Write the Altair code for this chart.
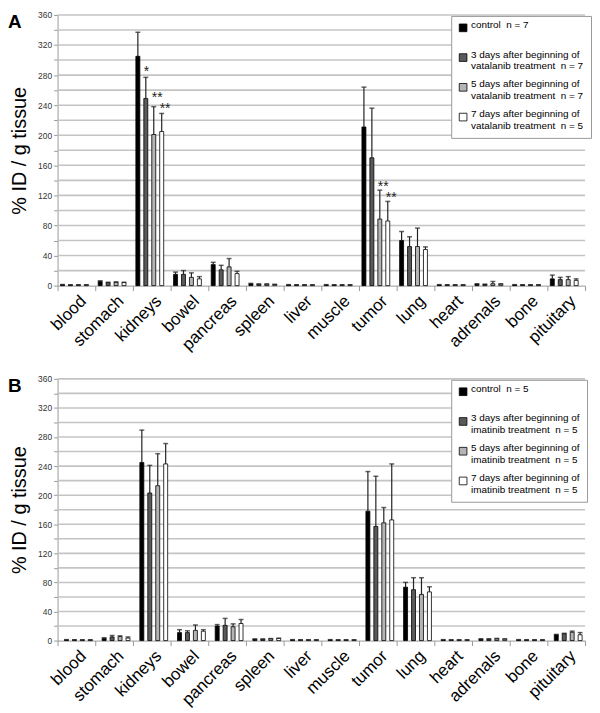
import altair as alt
import pandas as pd

tissues = ["blood", "stomach", "kidneys", "bowel", "pancreas", "spleen", "liver",
           "muscle", "tumor", "lung", "heart", "adrenals", "bone", "pituitary"]

NB = "\u00a0\u00a0"
labels_A = ["control" + NB + "n = 7| ",
            "3 days after beginning of|vatalanib treatment" + NB + "n = 7",
            "5 days after beginning of|vatalanib treatment" + NB + "n = 7",
            "7 days after beginning of|vatalanib treatment" + NB + "n = 5"]
labels_B = ["control" + NB + "n = 5| ",
            "3 days after beginning of|imatinib treatment" + NB + "n = 5",
            "5 days after beginning of|imatinib treatment" + NB + "n = 5",
            "7 days after beginning of|imatinib treatment" + NB + "n = 5"]
colors = ["#000000", "#5a5a5a", "#b4b4b4", "#ffffff"]

# Panel A (vatalanib) means and upper error limits
ctrl_A = [1.2, 5.5, 305, 15, 28, 2.5, 1, 1, 211, 60, 1, 2, 1, 9]
d3_A = [1, 4, 249, 15, 21, 2, 1, 1, 170, 52, 1, 1.5, 1, 8]
d5_A = [1, 4.5, 201, 11, 25, 2, 1, 1, 88.5, 52, 1, 2.5, 1, 8]
d7_A = [1, 4, 205, 9, 16, 1.5, 1, 1, 86, 48, 1, 2, 1, 7]
ctrl_A_top = [1.5, 6.5, 337, 18, 31, 3, 1.3, 1.3, 264, 72, 1.3, 2.5, 1.3, 14]
d3_A_top = [1.2, 4.5, 277, 20, 27, 2.3, 1.2, 1.2, 236, 65, 1.2, 2, 1.2, 11]
d5_A_top = [1.2, 5, 238, 17, 36, 2.3, 1.2, 1.2, 127, 76.5, 1.2, 5.5, 1.2, 12]
d7_A_top = [1.2, 4.5, 229, 12, 19, 1.8, 1.2, 1.2, 112, 51.5, 1.2, 2.5, 1.2, 9]
# significance marks: (tissue, group index) -> (text, level where the mark sits)
sig_A = {("kidneys", 1): ("*", 287), ("kidneys", 2): ("**", 252),
         ("kidneys", 3): ("**", 237), ("tumor", 2): ("**", 134),
         ("tumor", 3): ("**", 119)}

# Panel B (imatinib) means and upper error limits
ctrl_B = [1, 3, 245, 11, 20, 2, 1, 1, 178, 73.5, 1, 2, 1, 8]
d3_B = [1, 5, 203, 11, 21, 2, 1, 1, 157, 70, 1, 2, 1, 9.5]
d5_B = [1, 5.5, 213, 14, 19, 2.5, 1, 1, 162, 63.5, 1, 2.5, 1, 11.5]
d7_B = [1, 3.5, 243, 13, 23.5, 3, 1, 1, 166, 67, 1, 2, 1, 8]
ctrl_B_top = [1.3, 4, 289.5, 15, 22, 2.3, 1.3, 1.3, 232.5, 80, 1.3, 2.5, 1.3, 8.5]
d3_B_top = [1.2, 7, 241, 13.5, 30.5, 2.3, 1.2, 1.2, 226, 86.5, 1.2, 2.5, 1.2, 10]
d5_B_top = [1.2, 6.5, 257, 21.5, 23, 2.8, 1.2, 1.2, 183, 86.5, 1.2, 3, 1.2, 13]
d7_B_top = [1.2, 5, 271, 15, 29, 3.3, 1.2, 1.2, 243, 74, 1.2, 2.5, 1.2, 11]
sig_B = {}

FONT = "Liberation Sans"
W = 532
Y_TICKS = list(range(0, 361, 20))


def y_axis():
    return alt.Axis(values=Y_TICKS,
                    labelExpr="datum.value % 40 == 0 ? datum.label : ''",
                    labelOverlap=False,
                    grid=False,
                    domainColor="#999", tickColor="#999", tickSize=4,
                    labelFontSize=8.5, labelFont=FONT, labelColor="#333",
                    title="% ID / g tissue", titleFont=FONT,
                    titleFontSize=20, titleFontWeight="normal",
                    titleColor="black", titlePadding=8)


def panel(vals, tops, sig, labels, letter, height, legend_y):
    rows = []
    for gi, g in enumerate(labels):
        for ti, t in enumerate(tissues):
            s = sig.get((t, gi), ("", 0))
            rows.append({"tissue": t, "group": g, "value": vals[gi][ti],
                         "top": tops[gi][ti], "sig": s[0], "sigy": s[1]})
    df = pd.DataFrame(rows)
    yscale = alt.Scale(domain=[0, 360], nice=False)

    grid = alt.Chart(pd.DataFrame({"v": Y_TICKS[1:]})).mark_rule(
        color="#c4c4c4", strokeWidth=1.6).encode(
        y=alt.Y("v:Q", scale=yscale, axis=y_axis()))

    base = alt.Chart(df).encode(
        x=alt.X("tissue:N", sort=tissues,
                scale=alt.Scale(paddingInner=0, paddingOuter=0),
                axis=alt.Axis(title=None, labelAngle=-45, labelFontSize=17,
                              labelFont=FONT, labelColor="black",
                              labelAlign="right", labelBaseline="top",
                              labelOffset=1,
                              tickBand="extent", tickSize=5, tickColor="#999",
                              domainColor="#999", labelPadding=2)),
        xOffset=alt.XOffset("group:N", sort=labels,
                            scale=alt.Scale(paddingInner=0, paddingOuter=0.74)),
    )
    bars = base.mark_bar(stroke="black", strokeWidth=0.8).encode(
        y=alt.Y("value:Q", scale=yscale, axis=y_axis()),
        color=alt.Color("group:N", sort=labels,
                        scale=alt.Scale(domain=labels, range=colors),
                        legend=alt.Legend(title=None, orient="none",
                                          legendX=W - 135, legendY=legend_y,
                                          direction="vertical",
                                          labelExpr="split(datum.label, '|')",
                                          labelFont=FONT, labelFontSize=10,
                                          labelColor="black", labelLimit=400,
                                          labelBaseline="alphabetic",
                                          padding=7, strokeColor="#999",
                                          fillColor="white", symbolType="square",
                                          symbolSize=60, symbolStrokeColor="black",
                                          symbolStrokeWidth=0.8, symbolOpacity=1,
                                          rowPadding=8, labelOffset=3)),
    )
    err = base.mark_rule(color="#222", strokeWidth=1.2).encode(
        y=alt.Y("value:Q", scale=yscale, axis=y_axis()), y2="top:Q")
    cap = base.mark_tick(color="#222", size=5, thickness=1.5,
                         orient="horizontal").encode(
        y=alt.Y("top:Q", scale=yscale, axis=y_axis()))
    stars = base.transform_filter("datum.sig != ''").mark_text(
        align="left", baseline="middle", dx=-2, dy=2, fontSize=14,
        font=FONT, color="#222").encode(
        y=alt.Y("sigy:Q", scale=yscale, axis=y_axis()), text="sig:N")
    let = alt.Chart(pd.DataFrame({"t": [letter]})).mark_text(
        align="left", baseline="top", fontSize=19, fontWeight="bold",
        font=FONT, color="black").encode(
        text="t:N", x=alt.value(-50), y=alt.value(-2))
    return alt.layer(grid, bars, err, cap, stars, let).properties(
        width=W, height=height)


pA = panel([ctrl_A, d3_A, d5_A, d7_A], [ctrl_A_top, d3_A_top, d5_A_top, d7_A_top],
           sig_A, labels_A, "A", 273, 1)
pB = panel([ctrl_B, d3_B, d5_B, d7_B], [ctrl_B_top, d3_B_top, d5_B_top, d7_B_top],
           sig_B, labels_B, "B", 264, 1)

chart = alt.vconcat(pA, pB, spacing=22).resolve_scale(
    color="independent").properties(padding=0).configure_view(stroke=None)

chart.save("out.html", embed_options={"renderer": "svg", "actions": False})
